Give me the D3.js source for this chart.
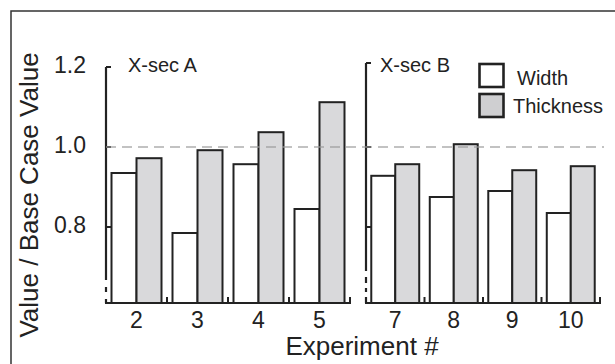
<!DOCTYPE html>
<html>
<head>
<meta charset="utf-8">
<script src="https://cdn.jsdelivr.net/npm/d3@7"></script>
<style>
  html, body { margin: 0; padding: 0; background: #fff; }
  svg { display: block; }
  text { font-family: "Liberation Sans", Arial, Helvetica, sans-serif; fill: #222; }
</style>
</head>
<body>
<svg id="chart" width="615" height="364"></svg>
<script>
// Ratio of each experiment's result to the base case, two cross-sections
const seriesNames = ["Width", "Thickness"];
const panelLabels = ["X-sec A", "X-sec B"];
const experimentsA = ["2", "3", "4", "5"];
const widthA = [0.935, 0.785, 0.957, 0.845];
const thicknessA = [0.972, 0.992, 1.037, 1.112];
const experimentsB = ["7", "8", "9", "10"];
const widthB = [0.928, 0.875, 0.89, 0.835];
const thicknessB = [0.957, 1.007, 0.942, 0.952];
const yTicks = [0.8, 1.0, 1.2];
const yTickLabels = ["0.8", "1.0", "1.2"];
const referenceValue = 1.0;
const yTitle = "Value / Base Case Value";
const xTitle = "Experiment #";

const svg = d3.select("#chart");
const ink = "#222";
const fills = { Width: "#ffffff", Thickness: "#d9d9db" };

// Frame (only top and left edges show)
svg.append("path")
  .attr("d", "M11,364 V11 H615")
  .attr("fill", "none").attr("stroke", "#333").attr("stroke-width", 1.5);

// Shared vertical scale (axis starts near 0.61 with a break)
const y = d3.scaleLinear().domain([0.61, 1.2]).range([303, 67]);
const baseY = y(0.61);

const panels = [
  { label: panelLabels[0], cats: experimentsA, w: widthA, t: thicknessA, x0: 106, x1: 350, labelX: 128, top: 1.2, brk: [[280, 287], [292, 299]] },
  { label: panelLabels[1], cats: experimentsB, w: widthB, t: thicknessB, x0: 366, x1: 600, labelX: 380, top: 1.21, brk: [[271, 277], [283, 288], [292, 297]] }
];

panels.forEach((p, pi) => {
  const g = svg.append("g");
  const x = d3.scaleBand().domain(p.cats).range([p.x0, p.x1]).paddingInner(0).paddingOuter(0);
  const xi = d3.scaleBand().domain(seriesNames).range([0, x.bandwidth()]).paddingInner(0).paddingOuter(0.22);

  const rows = p.cats.map((c, i) => ({ cat: c, Width: p.w[i], Thickness: p.t[i] }));

  // bars
  rows.forEach(r => {
    seriesNames.forEach(s => {
      g.append("rect")
        .attr("x", x(r.cat) + xi(s))
        .attr("y", y(r[s]))
        .attr("width", xi.bandwidth())
        .attr("height", baseY - y(r[s]))
        .attr("fill", fills[s])
        .attr("stroke", ink).attr("stroke-width", 2);
    });
  });

  // y axis line with break marks near the bottom
  const ax = p.x0;
  const segs = [];
  let top = y(p.top);
  p.brk.forEach(b => { segs.push([top, b[0]]); top = b[1]; });
  segs.push([top, baseY]);
  segs.forEach(s => {
    g.append("line").attr("x1", ax).attr("x2", ax).attr("y1", s[0]).attr("y2", s[1])
      .attr("stroke", ink).attr("stroke-width", 2.2);
  });
  // inward y ticks
  yTicks.map(v => (v === 1.2 ? p.top : v)).forEach(v => {
    g.append("line").attr("x1", ax).attr("x2", ax + 5).attr("y1", y(v)).attr("y2", y(v))
      .attr("stroke", ink).attr("stroke-width", 2);
  });

  // x baseline with upward ticks at group edges
  g.append("line").attr("x1", ax - 1).attr("x2", p.x1 + 1).attr("y1", baseY).attr("y2", baseY)
    .attr("stroke", ink).attr("stroke-width", 2.2);
  p.cats.forEach(c => {
    const xe = x(c) + x.bandwidth();
    g.append("line").attr("x1", xe).attr("x2", xe).attr("y1", baseY).attr("y2", baseY - 6)
      .attr("stroke", ink).attr("stroke-width", 2);
  });

  // category labels
  p.cats.forEach(c => {
    g.append("text").attr("x", x(c) + x.bandwidth() / 2).attr("y", 328)
      .attr("text-anchor", "middle").attr("font-size", 23).text(c);
  });

  // panel label
  g.append("text").attr("x", p.labelX).attr("y", 72).attr("font-size", 20).text(p.label);
});

// y tick labels (left panel only)
yTicks.forEach((v, i) => {
  svg.append("text").attr("x", 86).attr("y", y(v) + 6)
    .attr("text-anchor", "end").attr("font-size", 23).text(yTickLabels[i]);
});

// dashed reference line at the base case value
svg.append("line")
  .attr("x1", 106).attr("x2", 604).attr("y1", y(referenceValue)).attr("y2", y(referenceValue))
  .attr("stroke", "#999").attr("stroke-opacity", 0.6).attr("stroke-width", 2.2)
  .attr("stroke-dasharray", "10,6");

// legend
const legend = svg.append("g");
seriesNames.forEach((s, i) => {
  legend.append("rect").attr("x", 479.5).attr("y", 64 + i * 30).attr("width", 24).attr("height", 23)
    .attr("fill", s === "Width" ? fills.Width : "#cfcfd1").attr("stroke", ink).attr("stroke-width", 2.6);
  legend.append("text").attr("x", i === 0 ? 517 : 513).attr("y", 85 + i * 28)
    .attr("font-size", 20).text(s);
});

// axis titles
svg.append("text").attr("transform", "translate(38,195) rotate(-90)")
  .attr("text-anchor", "middle").attr("font-size", 26).text(yTitle);
svg.append("text").attr("x", 362).attr("y", 355)
  .attr("text-anchor", "middle").attr("font-size", 26).text(xTitle);
</script>
</body>
</html>
